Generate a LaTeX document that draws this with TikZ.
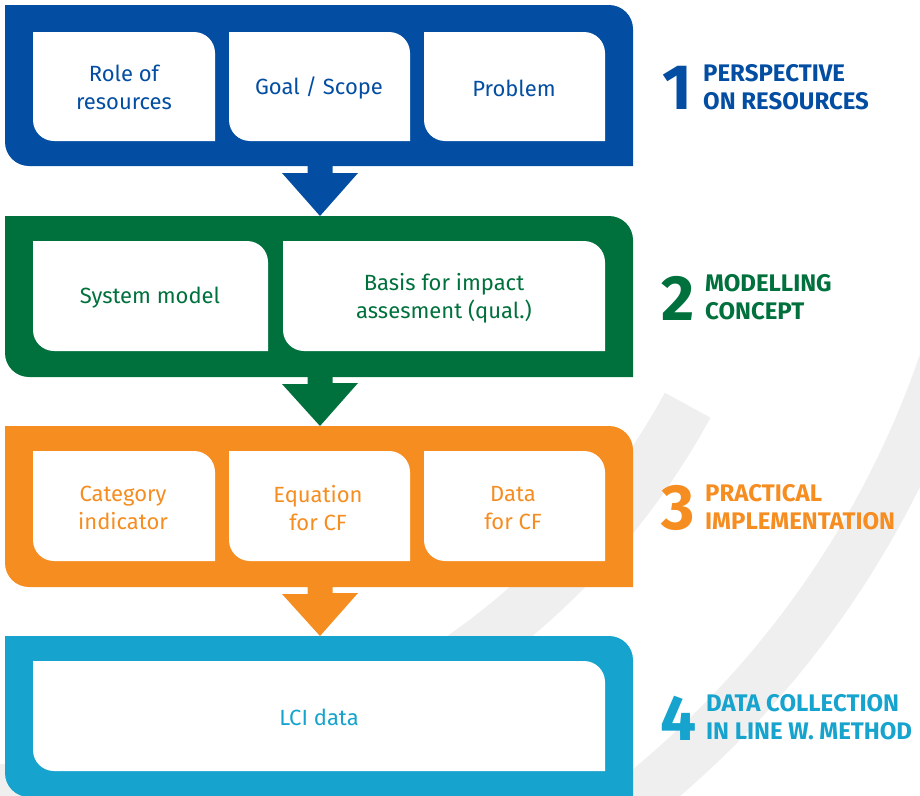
\documentclass[tikz,border=0pt]{standalone}
\usepackage{fontspec}
\setmainfont{Fira Sans}
\definecolor{cblue}{HTML}{034EA2}
\definecolor{cgreen}{HTML}{00713D}
\definecolor{corange}{HTML}{F68D21}
\definecolor{clight}{HTML}{16A4CE}
\definecolor{arcgray}{HTML}{EFEFEF}
% tab shape: square top-left / bottom-right, rounded top-right / bottom-left
\newcommand{\tabshape}[6]{\fill[#1] (#2,#3) -- ({#4-#6},#3) arc[start angle=90,end angle=0,radius=#6pt] -- (#4,#5) -- ({#2+#6},#5) arc[start angle=270,end angle=180,radius=#6pt] -- cycle;}
\newcommand{\flowarrow}[3]{\fill[#1] (#2) ++(-12.5,0) -- ++(0,7) -- ++(-25.5,0) -- (#3) -- ++(38,-43) -- ++(-25.5,0) -- ++(0,-7) -- cycle;}
\begin{document}
\begin{tikzpicture}[x=1pt,y=-1pt,
  boxtext/.style={align=center,inner sep=0pt,font=\fontsize{22}{28}\selectfont,text=#1},
  headtext/.style={align=left,anchor=west,inner sep=0pt,font=\bfseries\fontsize{24}{28}\selectfont,text=#1},
  numtext/.style={inner sep=0pt,font=\bfseries\fontsize{64}{64}\selectfont,text=#1}]
\useasboundingbox (0,0) rectangle (920,795);
\clip (0,0) rectangle (920,795);
% background arcs
\coordinate (C) at (38,51);
\draw[line width=52pt,arcgray] (C) ++(-28.6:740pt) arc[start angle=-28.6,end angle=-100,radius=740pt];
\draw[line width=51pt,arcgray] (C) ++(-10:958pt) arc[start angle=-10,end angle=-100,radius=958pt];
% bands
\tabshape{cblue}{5}{5}{633}{166}{24}
\tabshape{cgreen}{5}{216}{633}{377}{24}
\tabshape{corange}{5}{426}{633}{587}{24}
\tabshape{clight}{5}{636}{633}{797}{24}
% band anchors
\coordinate (b1s) at (320,166);
\coordinate (b2n) at (320,216);
\coordinate (b2s) at (320,377);
\coordinate (b3n) at (320,426);
\coordinate (b3s) at (320,587);
\coordinate (b4n) at (320,636);
% arrows
\flowarrow{cblue}{b1s}{b2n}
\flowarrow{cgreen}{b2s}{b3n}
\flowarrow{corange}{b3s}{b4n}
% inner boxes
\tabshape{white}{33}{32}{215}{141}{21}
\tabshape{white}{229}{32}{410}{141}{21}
\tabshape{white}{424}{32}{605}{141}{21}
\tabshape{white}{33}{241}{268}{351}{21}
\tabshape{white}{283}{241}{605}{351}{21}
\tabshape{white}{33}{451}{215}{561}{21}
\tabshape{white}{229}{451}{410}{561}{21}
\tabshape{white}{424}{451}{605}{561}{21}
\tabshape{white}{33}{661}{605}{771}{21}
% box texts
\node[boxtext=cblue] (role) at (124,87) {Role of\\resources};
\node[boxtext=cblue] (goal) at (319,88) {Goal / Scope};
\node[boxtext=cblue] (prob) at (514,88) {Problem};
\node[boxtext=cgreen] (sys) at (150,298) {System model};
\node[boxtext=cgreen] (basis) at (444,298) {Basis for impact\\assesment (qual.)};
\node[boxtext=corange] (cat) at (123,508) {Category\\indicator};
\node[boxtext=corange] (eq) at (318,508) {Equation\\for CF};
\node[boxtext=corange] (dat) at (513,508) {Data\\for CF};
\node[boxtext=clight] (lci) at (319,717) {LCI data};
% headings
\node[numtext=cblue] (n1) at (677,88) {1};
\node[headtext=cblue] (h1) at (703,87) {PERSPECTIVE\\ON RESOURCES};
\node[numtext=cgreen] (n2) at (678,298) {2};
\node[headtext=cgreen] (h2) at (705,297) {MODELLING\\CONCEPT};
\node[numtext=corange] (n3) at (678,508) {3};
\node[headtext=corange] (h3) at (705,507) {PRACTICAL\\IMPLEMENTATION};
\node[numtext=clight] (n4) at (679,718) {4};
\node[headtext=clight] (h4) at (706,717) {DATA COLLECTION\\IN LINE W. METHOD};
\end{tikzpicture}
\end{document}
